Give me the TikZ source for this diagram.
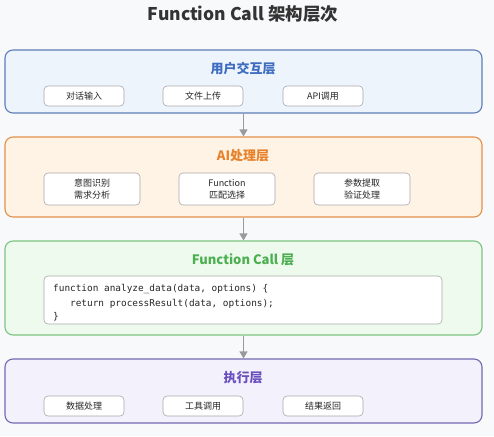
\documentclass[tikz,border=0pt]{standalone}
\usepackage{fontspec}
\setmainfont{Noto Sans CJK SC}
\newfontfamily\codefont{DejaVu Sans Mono}
\usetikzlibrary{arrows.meta}
\definecolor{bgc}{HTML}{F8F9FB}
\definecolor{titlec}{HTML}{333333}
\definecolor{blueb}{HTML}{5F7DB8}\definecolor{bluef}{HTML}{EDF4FC}\definecolor{bluet}{HTML}{3D6CC0}
\definecolor{orangeb}{HTML}{E2914A}\definecolor{orangef}{HTML}{FFF3E6}\definecolor{oranget}{HTML}{E8822A}
\definecolor{greenb}{HTML}{7CC47F}\definecolor{greenf}{HTML}{EFFAEF}\definecolor{greent}{HTML}{4CAF50}
\definecolor{purpleb}{HTML}{7468B0}\definecolor{purplef}{HTML}{F3F1FC}\definecolor{purplet}{HTML}{6A4FBF}
\definecolor{subb}{HTML}{A8A8A8}\definecolor{arrc}{HTML}{9A9A9A}
\tikzset{
  layerbox/.style={draw=#1b, fill=#1f, line width=1.1pt, rounded corners=8pt, minimum width=477pt, inner sep=0pt},
  layertitle/.style={text=#1t, font=\bfseries\fontsize{13}{15}\selectfont, inner sep=0pt},
  subbox/.style={draw=subb, fill=white, line width=0.6pt, rounded corners=4pt, minimum width=80pt, minimum height=20pt, inner sep=0pt, font=\fontsize{9}{11}\selectfont, text=black!85},
  subbox2/.style={subbox, minimum width=96pt, minimum height=32pt, align=center, font=\fontsize{9}{12}\selectfont},
  codeline/.style={anchor=west, inner sep=0pt, font=\codefont\fontsize{9.4}{11}\selectfont, text=black!85},
  flow/.style={draw=arrc, line width=1.2pt, -{Triangle[length=7pt,width=8pt]}}
}
\begin{document}
\begin{tikzpicture}[x=1pt,y=-1pt]
\path[fill=bgc] (0,0) rectangle (494,436);
\useasboundingbox (0,0) rectangle (494,436);
\node[text=titlec, font=\bfseries\fontsize{17.5}{20}\selectfont, inner sep=0pt] (title) at (243,14) {Function Call 架构层次};
% layer 1
\node[layerbox=blue, minimum height=63pt] (L1) at (243.5,81.5) {};
\node[layertitle=blue] (L1t) at (243,69) {用户交互层};
\node[subbox] (a1) at (84,96) {对话输入};
\node[subbox] (a2) at (203,96) {文件上传};
\node[subbox] (a3) at (323,96) {API调用};
% layer 2
\node[layerbox=orange, minimum height=80pt] (L2) at (243.5,177) {};
\node[layertitle=orange] (L2t) at (243,156) {AI处理层};
\node[subbox2] (b1) at (92,189) {意图识别\\需求分析};
\node[subbox2] (b2) at (227,189) {Function\\匹配选择};
\node[subbox2] (b3) at (362,189) {参数提取\\验证处理};
% layer 3
\node[layerbox=green, minimum height=94pt] (L3) at (243.5,288) {};
\node[layertitle=green] (L3t) at (243,260) {Function Call 层};
\node[draw=subb, fill=white, line width=0.6pt, rounded corners=4pt, minimum width=398pt, minimum height=48pt, inner sep=0pt] (code) at (243,300) {};
\node[codeline] (c1) at (53,289.5) {function analyze\_data(data, options) \{};
\node[codeline] (c2) at (53,304) {\ \ \ return processResult(data, options);};
\node[codeline] (c3) at (53,317) {\}};
% layer 4
\node[layerbox=purple, minimum height=64pt] (L4) at (243.5,391) {};
\node[layertitle=purple] (L4t) at (243,378) {执行层};
\node[subbox] (d1) at (84,406) {数据处理};
\node[subbox] (d2) at (203,406) {工具调用};
\node[subbox] (d3) at (323,406) {结果返回};
% arrows
\draw[flow] (L1.south) -- (L2.north);
\draw[flow] (L2.south) -- (L3.north);
\draw[flow] (L3.south) -- (L4.north);
\end{tikzpicture}
\end{document}
